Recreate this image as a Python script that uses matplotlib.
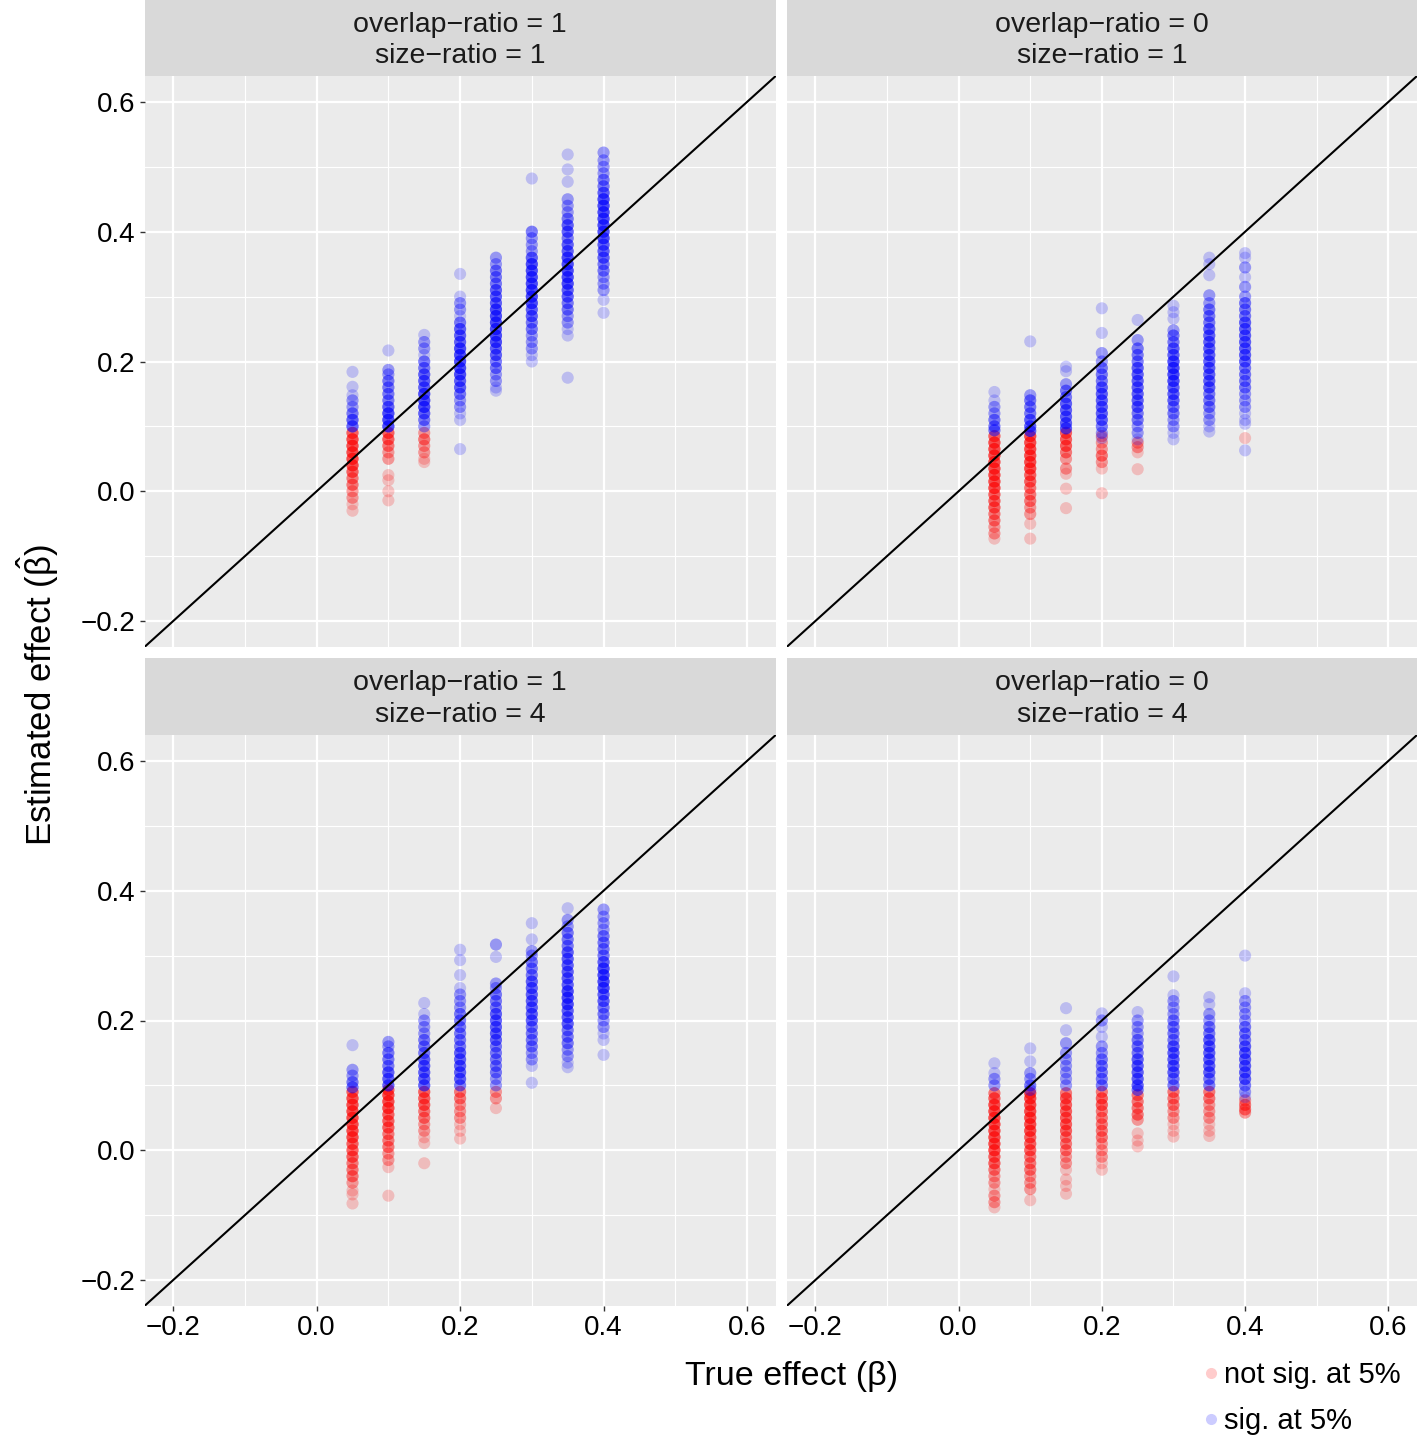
#Estimated vs true effect, 2x2 facets (overlap-ratio x size-ratio)

import numpy as np
import matplotlib
matplotlib.use("Agg")
import matplotlib.pyplot as plt
from matplotlib.ticker import MultipleLocator
from matplotlib.lines import Line2D

plt.rcParams["font.family"] = ["Liberation Sans", "DejaVu Sans"]
plt.rcParams["mathtext.fontset"] = "custom"
plt.rcParams["mathtext.rm"] = "Liberation Sans"
plt.rcParams["mathtext.it"] = "Liberation Sans"

# true effect levels (x of each column of points)
x_true = [0.05, 0.10, 0.15, 0.20, 0.25, 0.30, 0.35, 0.40]

# estimated effects, (value, how many points stacked there)
# one list per true-effect column; ns = not sig. at 5%, sig = sig. at 5%

# overlap-ratio = 1, size-ratio = 1
ns_o1_s1 = [
    [(0.09, 4), (0.08, 5), (0.07, 5), (0.06, 5), (0.05, 5), (0.04, 5), (0.03, 4), (0.02, 3),
     (0.01, 3), (0.0, 2), (-0.01, 2), (-0.02, 1), (-0.03, 1)],
    [(0.09, 4), (0.08, 4), (0.07, 3), (0.06, 2), (0.05, 2), (0.025, 1), (0.017, 1), (0.0, 1), (-0.014, 1)],
    [(0.09, 2), (0.08, 3), (0.07, 2), (0.06, 2), (0.05, 1), (0.045, 1)],
    [], [], [], [], [],
]
sig_o1_s1 = [
    [(0.184, 1), (0.161, 1), (0.148, 1), (0.14, 2), (0.13, 2), (0.12, 3), (0.11, 4), (0.10, 4)],
    [(0.217, 1), (0.187, 2), (0.18, 2), (0.17, 3), (0.16, 3), (0.15, 3), (0.14, 3), (0.13, 4),
     (0.12, 5), (0.11, 5), (0.10, 5)],
    [(0.241, 1), (0.23, 2), (0.22, 2), (0.21, 1), (0.20, 3), (0.19, 3), (0.18, 4), (0.17, 4),
     (0.16, 4), (0.15, 5), (0.14, 5), (0.13, 5), (0.12, 4), (0.11, 3), (0.10, 2)],
    [(0.335, 1), (0.30, 1), (0.29, 2), (0.28, 2), (0.27, 1), (0.26, 3), (0.25, 4), (0.24, 4),
     (0.23, 4), (0.22, 5), (0.21, 5), (0.20, 5), (0.19, 5), (0.18, 5), (0.17, 4), (0.16, 4),
     (0.15, 3), (0.14, 2), (0.13, 2), (0.12, 1), (0.11, 1), (0.065, 1)],
    [(0.36, 2), (0.35, 2), (0.34, 3), (0.33, 3), (0.32, 3), (0.31, 4), (0.30, 4), (0.29, 4),
     (0.28, 5), (0.27, 5), (0.26, 5), (0.25, 5), (0.24, 5), (0.23, 5), (0.22, 4), (0.21, 4),
     (0.20, 3), (0.19, 3), (0.18, 2), (0.17, 2), (0.16, 1), (0.155, 1)],
    [(0.482, 1), (0.40, 3), (0.39, 2), (0.38, 2), (0.37, 2), (0.36, 4), (0.35, 5), (0.34, 5),
     (0.33, 5), (0.32, 5), (0.31, 5), (0.30, 5), (0.29, 5), (0.28, 4), (0.27, 4), (0.26, 3),
     (0.25, 3), (0.24, 2), (0.23, 2), (0.22, 2), (0.21, 1), (0.20, 1)],
    [(0.519, 1), (0.496, 1), (0.477, 1), (0.45, 2), (0.44, 2), (0.43, 2), (0.42, 3), (0.41, 4),
     (0.40, 4), (0.39, 3), (0.38, 4), (0.37, 4), (0.36, 5), (0.35, 5), (0.34, 5), (0.33, 5),
     (0.32, 5), (0.31, 4), (0.30, 4), (0.29, 3), (0.28, 3), (0.27, 2), (0.26, 2), (0.25, 1),
     (0.24, 1), (0.175, 1)],
    [(0.522, 2), (0.51, 2), (0.50, 2), (0.49, 2), (0.48, 3), (0.47, 3), (0.46, 4), (0.45, 5),
     (0.44, 5), (0.43, 5), (0.42, 5), (0.41, 5), (0.40, 5), (0.39, 5), (0.38, 4), (0.37, 4),
     (0.36, 4), (0.35, 3), (0.34, 3), (0.33, 2), (0.32, 2), (0.31, 2), (0.295, 1), (0.275, 1)],
]

# overlap-ratio = 0, size-ratio = 1
ns_o0_s1 = [
    [(0.085, 4), (0.075, 5), (0.065, 5), (0.055, 5), (0.045, 5), (0.035, 5), (0.025, 5), (0.015, 5),
     (0.005, 5), (-0.005, 4), (-0.015, 4), (-0.025, 4), (-0.035, 3), (-0.045, 3), (-0.055, 2),
     (-0.065, 2), (-0.073, 1)],
    [(0.085, 5), (0.075, 5), (0.065, 5), (0.055, 5), (0.045, 5), (0.035, 5), (0.025, 4), (0.015, 4),
     (0.005, 3), (-0.005, 3), (-0.015, 3), (-0.025, 2), (-0.035, 2), (-0.05, 1), (-0.073, 1)],
    [(0.09, 4), (0.08, 4), (0.07, 4), (0.06, 3), (0.05, 2), (0.035, 2), (0.027, 1), (0.004, 1), (-0.026, 1)],
    [(0.085, 2), (0.075, 2), (0.065, 2), (0.055, 3), (0.045, 2), (0.035, 1), (-0.003, 1)],
    [(0.075, 2), (0.068, 2), (0.06, 1), (0.034, 1)],
    [],
    [],
    [(0.082, 1)],
]
sig_o0_s1 = [
    [(0.153, 1), (0.14, 1), (0.13, 2), (0.12, 2), (0.11, 3), (0.10, 3), (0.094, 3)],
    [(0.231, 1), (0.148, 2), (0.14, 3), (0.13, 3), (0.12, 3), (0.11, 4), (0.10, 4), (0.093, 4)],
    [(0.192, 1), (0.185, 1), (0.165, 2), (0.155, 3), (0.145, 3), (0.135, 4), (0.125, 4), (0.115, 4),
     (0.105, 4), (0.097, 4)],
    [(0.282, 1), (0.244, 1), (0.213, 2), (0.20, 2), (0.19, 3), (0.18, 3), (0.17, 3), (0.16, 4),
     (0.15, 4), (0.14, 4), (0.13, 4), (0.12, 4), (0.11, 4), (0.10, 3), (0.09, 2), (0.082, 1)],
    [(0.264, 1), (0.233, 2), (0.22, 3), (0.21, 3), (0.20, 3), (0.19, 4), (0.18, 4), (0.17, 4),
     (0.16, 4), (0.15, 4), (0.14, 4), (0.13, 4), (0.12, 3), (0.11, 3), (0.10, 2), (0.09, 2), (0.08, 1)],
    [(0.286, 1), (0.276, 1), (0.266, 1), (0.248, 2), (0.24, 3), (0.23, 3), (0.22, 4), (0.21, 4),
     (0.20, 5), (0.19, 5), (0.18, 5), (0.17, 5), (0.16, 4), (0.15, 4), (0.14, 4), (0.13, 3),
     (0.12, 3), (0.11, 2), (0.10, 2), (0.09, 1), (0.08, 1)],
    [(0.36, 1), (0.35, 1), (0.333, 1), (0.302, 2), (0.29, 2), (0.28, 3), (0.27, 3), (0.26, 3),
     (0.25, 4), (0.24, 4), (0.23, 4), (0.22, 4), (0.21, 4), (0.20, 4), (0.19, 4), (0.18, 4),
     (0.17, 4), (0.16, 4), (0.15, 3), (0.14, 3), (0.13, 3), (0.12, 2), (0.11, 2), (0.10, 1), (0.092, 1)],
    [(0.367, 1), (0.36, 1), (0.345, 2), (0.33, 1), (0.315, 2), (0.30, 2), (0.29, 3), (0.28, 3),
     (0.27, 3), (0.26, 4), (0.25, 4), (0.24, 4), (0.23, 4), (0.22, 4), (0.21, 4), (0.20, 4),
     (0.19, 3), (0.18, 3), (0.17, 3), (0.16, 3), (0.15, 2), (0.14, 2), (0.13, 2), (0.12, 1),
     (0.11, 1), (0.104, 1), (0.063, 1)],
]

# overlap-ratio = 1, size-ratio = 4
ns_o1_s4 = [
    [(0.09, 4), (0.08, 5), (0.07, 5), (0.06, 5), (0.05, 5), (0.04, 5), (0.03, 5), (0.02, 5),
     (0.01, 4), (0.0, 4), (-0.01, 4), (-0.02, 3), (-0.03, 3), (-0.04, 3), (-0.05, 2), (-0.062, 1),
     (-0.068, 1), (-0.082, 1)],
    [(0.093, 4), (0.085, 5), (0.075, 5), (0.065, 5), (0.055, 4), (0.045, 4), (0.035, 4), (0.025, 3),
     (0.015, 3), (0.005, 3), (-0.005, 2), (-0.015, 2), (-0.026, 1), (-0.07, 1)],
    [(0.09, 4), (0.08, 4), (0.07, 4), (0.06, 3), (0.05, 3), (0.04, 2), (0.03, 2), (0.02, 1),
     (0.011, 1), (-0.02, 1)],
    [(0.09, 3), (0.08, 3), (0.07, 2), (0.06, 2), (0.05, 2), (0.04, 1), (0.03, 1), (0.018, 1)],
    [(0.09, 2), (0.08, 2), (0.065, 1)],
    [], [], [],
]
sig_o1_s4 = [
    [(0.162, 1), (0.124, 2), (0.115, 2), (0.105, 3), (0.097, 3)],
    [(0.167, 2), (0.16, 2), (0.15, 3), (0.14, 3), (0.13, 3), (0.12, 4), (0.11, 4), (0.10, 4)],
    [(0.227, 1), (0.21, 1), (0.20, 2), (0.19, 2), (0.18, 2), (0.17, 3), (0.16, 3), (0.15, 3),
     (0.14, 4), (0.13, 4), (0.12, 4), (0.11, 4), (0.10, 4)],
    [(0.309, 1), (0.293, 1), (0.27, 1), (0.25, 1), (0.24, 2), (0.23, 2), (0.22, 2), (0.21, 3),
     (0.20, 3), (0.19, 3), (0.18, 3), (0.17, 3), (0.16, 3), (0.15, 4), (0.14, 4), (0.13, 4),
     (0.12, 4), (0.11, 4), (0.10, 3)],
    [(0.317, 2), (0.298, 1), (0.257, 2), (0.25, 2), (0.24, 3), (0.23, 3), (0.22, 3), (0.21, 4),
     (0.20, 4), (0.19, 4), (0.18, 4), (0.17, 4), (0.16, 3), (0.15, 3), (0.14, 3), (0.13, 3),
     (0.12, 3), (0.11, 2), (0.10, 2)],
    [(0.35, 1), (0.325, 1), (0.307, 2), (0.30, 2), (0.29, 3), (0.28, 3), (0.27, 3), (0.26, 4),
     (0.25, 4), (0.24, 4), (0.23, 4), (0.22, 4), (0.21, 4), (0.20, 4), (0.19, 3), (0.18, 3),
     (0.17, 3), (0.16, 3), (0.15, 2), (0.14, 2), (0.13, 1), (0.104, 1)],
    [(0.373, 1), (0.355, 2), (0.345, 2), (0.335, 3), (0.325, 3), (0.315, 3), (0.305, 4), (0.295, 4),
     (0.285, 4), (0.275, 4), (0.265, 4), (0.255, 4), (0.245, 5), (0.235, 5), (0.225, 5), (0.215, 4),
     (0.205, 4), (0.195, 4), (0.185, 3), (0.175, 3), (0.165, 3), (0.155, 2), (0.145, 2), (0.135, 1),
     (0.128, 1)],
    [(0.371, 2), (0.36, 2), (0.35, 2), (0.34, 2), (0.33, 3), (0.32, 3), (0.31, 3), (0.30, 3),
     (0.29, 4), (0.28, 5), (0.27, 5), (0.26, 5), (0.25, 5), (0.24, 4), (0.23, 4), (0.22, 3),
     (0.21, 3), (0.20, 2), (0.19, 2), (0.18, 1), (0.17, 1), (0.147, 1)],
]

# overlap-ratio = 0, size-ratio = 4
ns_o0_s4 = [
    [(0.088, 3), (0.08, 4), (0.07, 5), (0.06, 5), (0.05, 5), (0.04, 5), (0.03, 5), (0.02, 5),
     (0.01, 5), (0.0, 5), (-0.01, 4), (-0.02, 4), (-0.03, 3), (-0.04, 2), (-0.05, 2), (-0.06, 1),
     (-0.07, 2), (-0.08, 2), (-0.088, 1)],
    [(0.088, 5), (0.08, 5), (0.07, 5), (0.06, 5), (0.05, 5), (0.04, 5), (0.03, 5), (0.02, 4),
     (0.01, 4), (0.0, 4), (-0.01, 3), (-0.02, 3), (-0.03, 3), (-0.04, 2), (-0.05, 2), (-0.06, 2),
     (-0.077, 1)],
    [(0.088, 3), (0.08, 4), (0.07, 4), (0.06, 4), (0.05, 4), (0.04, 4), (0.03, 4), (0.02, 3),
     (0.01, 3), (0.0, 3), (-0.01, 2), (-0.02, 2), (-0.03, 1), (-0.045, 1), (-0.055, 1), (-0.067, 1)],
    [(0.09, 3), (0.08, 4), (0.07, 4), (0.06, 3), (0.05, 3), (0.04, 3), (0.03, 3), (0.02, 3),
     (0.01, 2), (0.0, 2), (-0.01, 2), (-0.02, 1), (-0.03, 1)],
    [(0.085, 3), (0.075, 3), (0.065, 3), (0.055, 3), (0.047, 2), (0.026, 1), (0.015, 1), (0.006, 1)],
    [(0.09, 3), (0.08, 3), (0.07, 3), (0.06, 2), (0.05, 2), (0.04, 1), (0.03, 1), (0.021, 1)],
    [(0.09, 3), (0.08, 3), (0.07, 2), (0.06, 2), (0.05, 2), (0.04, 1), (0.03, 1), (0.022, 1)],
    [(0.077, 2), (0.07, 3), (0.063, 3), (0.058, 2)],
]
sig_o0_s4 = [
    [(0.134, 1), (0.119, 1), (0.11, 2), (0.10, 2)],
    [(0.157, 1), (0.137, 1), (0.119, 2), (0.11, 2), (0.10, 3), (0.093, 2)],
    [(0.219, 1), (0.185, 1), (0.165, 2), (0.15, 2), (0.14, 2), (0.13, 2), (0.12, 2), (0.11, 2), (0.10, 2)],
    [(0.211, 1), (0.20, 2), (0.19, 1), (0.175, 1), (0.16, 2), (0.15, 2), (0.14, 3), (0.13, 3),
     (0.12, 3), (0.11, 3), (0.10, 3)],
    [(0.213, 1), (0.20, 2), (0.19, 2), (0.18, 2), (0.17, 3), (0.16, 3), (0.15, 3), (0.14, 4),
     (0.13, 4), (0.12, 4), (0.11, 4), (0.10, 4), (0.093, 3)],
    [(0.268, 1), (0.239, 1), (0.23, 2), (0.22, 2), (0.21, 2), (0.20, 3), (0.19, 3), (0.18, 3),
     (0.17, 3), (0.16, 4), (0.15, 4), (0.14, 4), (0.13, 4), (0.12, 4), (0.11, 3), (0.10, 3)],
    [(0.236, 1), (0.225, 1), (0.21, 2), (0.20, 2), (0.19, 3), (0.18, 3), (0.17, 4), (0.16, 4),
     (0.15, 4), (0.14, 4), (0.13, 4), (0.12, 4), (0.11, 3), (0.10, 3)],
    [(0.30, 1), (0.242, 1), (0.23, 2), (0.22, 2), (0.21, 2), (0.20, 2), (0.19, 3), (0.18, 3),
     (0.17, 3), (0.16, 4), (0.15, 4), (0.14, 4), (0.13, 4), (0.12, 4), (0.11, 4), (0.10, 3),
     (0.09, 2), (0.082, 1)],
]

strip_labels = [
    "overlap\u2212ratio = 1\nsize\u2212ratio = 1",
    "overlap\u2212ratio = 0\nsize\u2212ratio = 1",
    "overlap\u2212ratio = 1\nsize\u2212ratio = 4",
    "overlap\u2212ratio = 0\nsize\u2212ratio = 4",
]
panel_ns = [ns_o1_s1, ns_o0_s1, ns_o1_s4, ns_o0_s4]
panel_sig = [sig_o1_s1, sig_o0_s1, sig_o1_s4, sig_o0_s4]
legend_labels = ["not sig. at 5%", "sig. at 5%"]

RED = "#FF0000"
BLUE = "#0000FF"
ALPHA = 0.2
LIM = (-0.24, 0.64)

W, H = 1417, 1440
fig = plt.figure(figsize=(W / 100, H / 100), dpi=100)


def box(x0, y0, x1, y1):
    # pixel box (top-left origin) -> figure fraction
    return [x0 / W, 1 - y1 / H, (x1 - x0) / W, (y1 - y0) / H]


cols = [(144.5, 775.7), (786.7, 1417)]
rows = [(0, 76, 647), (658, 735, 1306)]


def expand(col):
    vals = [v for v, n in col for _ in range(n)]
    return np.array(vals, dtype=float)


for k in range(4):
    r, c = divmod(k, 2)
    x0, x1 = cols[c]
    s0, p0, p1 = rows[r]

    # strip
    sax = fig.add_axes(box(x0, s0, x1, p0))
    sax.set_facecolor("#D9D9D9")
    sax.set_xticks([])
    sax.set_yticks([])
    for sp in sax.spines.values():
        sp.set_visible(False)
    sax.text(0.5, 0.47, strip_labels[k], ha="center", va="center", fontsize=20.5,
             color="#1A1A1A", linespacing=1.27, transform=sax.transAxes)

    ax = fig.add_axes(box(x0, p0, x1, p1))
    ax.set_facecolor("#EBEBEB")
    for sp in ax.spines.values():
        sp.set_visible(False)
    ax.set_xlim(LIM)
    ax.set_ylim(LIM)
    ax.xaxis.set_major_locator(MultipleLocator(0.2))
    ax.yaxis.set_major_locator(MultipleLocator(0.2))
    ax.xaxis.set_minor_locator(MultipleLocator(0.1))
    ax.yaxis.set_minor_locator(MultipleLocator(0.1))
    ax.grid(which="minor", color="white", lw=0.8)
    ax.grid(which="major", color="white", lw=1.6)
    ax.set_axisbelow(True)
    ax.tick_params(which="minor", length=0)
    ax.tick_params(which="major", length=3.5, width=1.0, color="#333333",
                   labelsize=20, labelcolor="black", pad=3)
    if r == 0:
        ax.tick_params(axis="x", length=0, labelbottom=False)
    if c == 1:
        ax.tick_params(axis="y", length=0, labelleft=False)

    # y = x reference line
    ax.axline((0, 0), slope=1, color="black", lw=1.5, zorder=3)

    for i, xt in enumerate(x_true):
        ns = expand(panel_ns[k][i])
        sg = expand(panel_sig[k][i])
        if len(ns):
            ax.scatter(np.full(len(ns), xt), ns, s=76, color=RED, alpha=ALPHA,
                       edgecolors="none", zorder=2)
        if len(sg):
            ax.scatter(np.full(len(sg), xt), sg, s=76, color=BLUE, alpha=ALPHA,
                       edgecolors="none", zorder=2)

# axis titles
fig.text(792 / W, 1 - 1376 / H, "True effect (\u03b2)", ha="center", va="center", fontsize=24.5)
fig.text(38 / W, 1 - 695 / H, r"Estimated effect ($\hat{\mathrm{\beta}}$)", ha="center",
         va="center", rotation=90, fontsize=25)

# legend
handles = [Line2D([], [], ls="none", marker="o", markersize=8, markeredgewidth=0,
                  markerfacecolor=col, alpha=ALPHA) for col in (RED, BLUE)]
fig.legend(handles, legend_labels, loc="upper left", bbox_to_anchor=(1203.5 / W, 1 - 1361 / H),
           frameon=False, fontsize=21, handlelength=0.5, handletextpad=0.2,
           labelspacing=0.61, borderpad=0, borderaxespad=0)

fig.savefig("out.png", dpi=100)
